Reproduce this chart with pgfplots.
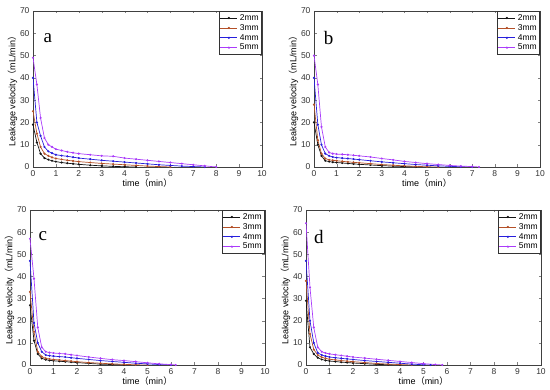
\documentclass[border=0pt]{standalone}
\usepackage{fontspec}
\setmainfont{Liberation Sans}
\newfontfamily\serifl{Liberation Serif}
\newfontfamily\cjk{Noto Sans CJK SC}
\usepackage{pgfplots}
\pgfplotsset{compat=1.18}
\definecolor{c2}{RGB}{20,20,20}
\definecolor{c3}{RGB}{180,80,40}
\definecolor{c4}{RGB}{40,30,220}
\definecolor{c5}{RGB}{170,60,250}
\pgfplotsset{
  panel/.style={
    scale only axis, anchor=south west,
    xmin=0, xmax=10, ymin=0, ymax=70,
    xtick={0,1,...,10}, ytick={0,10,...,70},
    tick align=inside, major tick length=2.5pt,
    tick label style={font=\fontsize{8.5}{9}\selectfont, black!80},
    /pgf/number format/assume math mode=true,
    label style={font=\fontsize{9}{10}\selectfont},
    xlabel={time{\cjk（}min{\cjk）}},
    ylabel={Leakage velocity{\cjk（}mL/min{\cjk）}},
    xlabel shift=-5pt, ylabel shift=-4pt,
    axis line style={black!75, line width=0.6pt},
    legend style={at={(1,1)}, anchor=north east, draw=black!80, line width=0.6pt,
      font=\fontsize{8.5}{9}\selectfont, inner sep=1pt, row sep=-1.5pt,
      cells={anchor=west}},
    legend cell align=left,
    every axis plot/.append style={line width=0.7pt, mark=*, mark size=0.7pt},
  },
}
\begin{document}
\begin{tikzpicture}
\path (0,0) rectangle (550pt,390pt);
% ---------- a ----------
\begin{axis}[panel, at={(33pt,223pt)}, width=229pt, height=156pt]
\addplot[c2, mark options={fill=c2}] coordinates {(0,19)(0.17,11)(0.33,6)(0.5,4)(0.67,3.3)(0.83,2.8)(1,2.4)(1.25,2)(1.5,1.7)(1.75,1.45)(2,1.2)(2.5,0.8)(3,0.5)(3.5,0.3)(4,0.1)(4.5,0)};
\addplot[c3, mark options={fill=c3}] coordinates {(0,25)(0.17,15)(0.33,9)(0.5,6)(0.67,5)(0.83,4.3)(1,3.8)(1.25,3.4)(1.5,3)(1.75,2.7)(2,2.4)(2.5,2)(3,1.6)(3.5,1.3)(4,1)(4.5,0.7)(5,0.4)(5.5,0.2)(6,0)};
\addplot[c4, mark options={fill=c4}] coordinates {(0,40)(0.17,20)(0.33,14)(0.5,9)(0.67,7)(0.83,6.2)(1,5.5)(1.25,5.1)(1.5,4.8)(1.75,4.4)(2,4)(2.5,3.5)(3,3)(3.5,2.6)(4,2.2)(4.5,1.8)(5,1.4)(5.5,1)(6,0.7)(6.5,0.4)(7,0.2)(7.5,0)};
\addplot[c5, mark options={fill=c5}] coordinates {(0,49)(0.17,37)(0.33,22)(0.5,13)(0.67,10)(0.83,9)(1,8)(1.25,7.4)(1.5,6.8)(1.75,6.4)(2,6)(2.5,5.5)(3,5)(3.5,4.8)(4,4)(4.5,3.5)(5,3)(5.5,2.5)(6,2)(6.5,1.5)(7,1)(7.5,0.5)(8,0)};
\legend{2mm,3mm,4mm,5mm}
\node[font=\serifl\fontsize{19}{19}\selectfont] at (axis cs:0.65,58) {a};
\end{axis}
% ---------- b ----------
\begin{axis}[panel, at={(314pt,223pt)}, width=226pt, height=156pt]
\addplot[c2, mark options={fill=c2}] coordinates {(0,20)(0.17,10)(0.33,5)(0.5,2.8)(0.67,2.4)(0.83,2.2)(1,2)(1.25,1.8)(1.5,1.6)(1.75,1.4)(2,1.2)(2.5,0.9)(3,0.6)(3.5,0.4)(4,0.2)(4.5,0)};
\addplot[c3, mark options={fill=c3}] coordinates {(0,28)(0.17,12)(0.33,6)(0.5,3.8)(0.67,3.2)(0.83,3)(1,2.8)(1.25,2.55)(1.5,2.3)(1.75,2.1)(2,1.9)(2.5,1.5)(3,1.1)(3.5,0.8)(4,0.5)(4.5,0.3)(5,0.1)(5.5,0)};
\addplot[c4, mark options={fill=c4}] coordinates {(0,40)(0.17,19)(0.33,10)(0.5,6)(0.67,5)(0.83,4.5)(1,4.2)(1.25,4)(1.5,3.8)(1.75,3.55)(2,3.3)(2.5,2.8)(3,2.3)(3.5,1.9)(4,1.5)(4.5,1.1)(5,0.8)(5.5,0.5)(6,0.3)(6.5,0.1)(7,0)};
\addplot[c5, mark options={fill=c5}] coordinates {(0,50)(0.17,37)(0.33,18)(0.5,9)(0.67,6.5)(0.83,6)(1,5.8)(1.25,5.65)(1.5,5.5)(1.75,5.25)(2,5)(2.5,4.5)(3,3.8)(3.5,3.2)(4,2.5)(4.5,2)(5,1.5)(5.5,1.1)(6,0.7)(6.5,0.4)(7,0.2)(7.3,0)};
\legend{2mm,3mm,4mm,5mm}
\node[font=\serifl\fontsize{19}{19}\selectfont] at (axis cs:0.65,58) {b};
\end{axis}
% ---------- c ----------
\begin{axis}[panel, at={(30pt,25pt)}, width=235pt, height=155pt]
\addplot[c2, mark options={fill=c2}] coordinates {(0,27)(0.17,11)(0.33,5)(0.5,3)(0.67,2.4)(0.83,2.1)(1,1.9)(1.25,1.7)(1.5,1.5)(1.75,1.3)(2,1.1)(2.5,0.7)(3,0.4)(3.5,0.2)(4,0)};
\addplot[c3, mark options={fill=c3}] coordinates {(0,33)(0.17,15)(0.33,6)(0.5,3.8)(0.67,3)(0.83,2.7)(1,2.5)(1.25,2.25)(1.5,2)(1.75,1.75)(2,1.5)(2.5,1.1)(3,0.8)(3.5,0.5)(4,0.3)(4.5,0.1)(5,0)};
\addplot[c4, mark options={fill=c4}] coordinates {(0,47)(0.17,19)(0.33,10)(0.5,6)(0.67,4.5)(0.83,4.2)(1,4)(1.25,3.8)(1.5,3.6)(1.75,3.3)(2,3)(2.5,2.5)(3,2)(3.5,1.6)(4,1.2)(4.5,0.8)(5,0.5)(5.5,0.2)(6,0)};
\addplot[c5, mark options={fill=c5}] coordinates {(0,57)(0.17,39)(0.33,17)(0.5,8)(0.67,6)(0.83,5.6)(1,5.4)(1.25,5.2)(1.5,5)(1.75,4.65)(2,4.3)(2.5,3.6)(3,3)(3.5,2.4)(4,2)(4.5,1.5)(5,1)(5.5,0.5)(6,0.2)(6.2,0)};
\legend{2mm,3mm,4mm,5mm}
\node[font=\serifl\fontsize{19}{19}\selectfont] at (axis cs:0.55,58) {c};
\end{axis}
% ---------- d ----------
\begin{axis}[panel, at={(306pt,25pt)}, width=235pt, height=155pt]
\addplot[c2, mark options={fill=c2}] coordinates {(0,29)(0.17,8)(0.33,5)(0.5,3.3)(0.67,2.5)(0.83,2.1)(1,1.8)(1.25,1.55)(1.5,1.3)(1.75,1.1)(2,0.9)(2.5,0.6)(3,0.3)(3.5,0.1)(4,0)};
\addplot[c3, mark options={fill=c3}] coordinates {(0,38)(0.17,14)(0.33,7)(0.5,4.5)(0.67,3.5)(0.83,3)(1,2.6)(1.25,2.3)(1.5,2)(1.75,1.75)(2,1.5)(2.5,1.1)(3,0.7)(3.5,0.4)(4,0.2)(4.5,0)};
\addplot[c4, mark options={fill=c4}] coordinates {(0,47)(0.17,20)(0.33,10)(0.5,5.5)(0.67,4.5)(0.83,4)(1,3.6)(1.25,3.3)(1.5,3)(1.75,2.75)(2,2.5)(2.5,2)(3,1.6)(3.5,1.2)(4,0.8)(4.5,0.4)(5,0.1)(5.3,0)};
\addplot[c5, mark options={fill=c5}] coordinates {(0,64)(0.17,35)(0.33,17)(0.5,8)(0.67,6)(0.83,5.4)(1,5)(1.25,4.65)(1.5,4.3)(1.75,3.95)(2,3.6)(2.5,3.1)(3,2.6)(3.5,2.1)(4,1.6)(4.5,1.1)(5,0.6)(5.5,0.2)(5.8,0)};
\legend{2mm,3mm,4mm,5mm}
\node[font=\serifl\fontsize{19}{19}\selectfont] at (axis cs:0.55,58) {d};
\end{axis}
\end{tikzpicture}
\end{document}
